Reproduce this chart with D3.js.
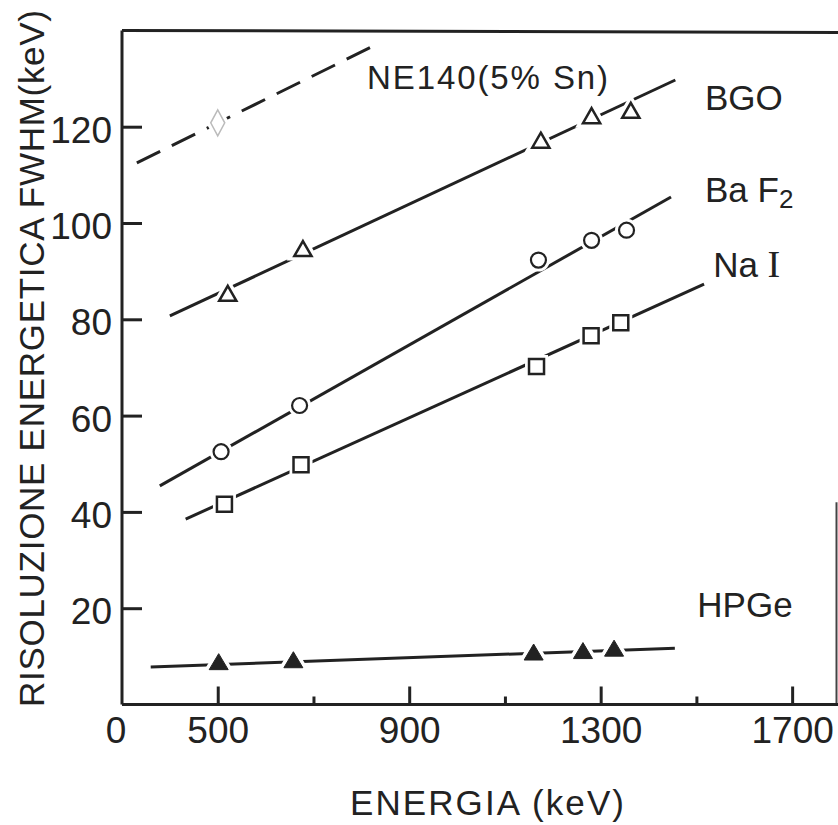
<!DOCTYPE html>
<html>
<head>
<meta charset="utf-8">
<script src="https://cdn.jsdelivr.net/npm/d3@7"></script>
<style>
  html, body { margin: 0; padding: 0; background: #fff; }
  svg { display: block; }
  text { font-family: "Liberation Sans", Arial, sans-serif; fill: #222; }
</style>
</head>
<body>
<div id="chart"></div>
<script>
// ---------- DATA ----------
const xMajorTicks = [500, 900, 1300, 1700];
const xMinorTicks = [700, 1100, 1500];
const yTicks = [20, 40, 60, 80, 100, 120];
const originLabel = "0";
const xTitle = "ENERGIA (keV)";
const yTitle = "RISOLUZIONE ENERGETICA FWHM(keV)";

// BGO (open triangles)
const bgoEnergy = [521, 678, 1175, 1281, 1363];
const bgoFwhm   = [85.4, 94.7, 117.2, 122.3, 123.4];
const bgoFit    = [[400, 80.7], [1456, 129.7]];
// BaF2 (open circles)
const baf2Energy = [507, 671, 1170, 1281, 1354];
const baf2Fwhm   = [52.5, 62.1, 92.3, 96.4, 98.5];
const baf2Fit    = [[379, 45.4], [1447, 105.4]];
// NaI (open squares)
const naiEnergy = [514, 674, 1166, 1280, 1342];
const naiFwhm   = [41.6, 49.8, 70.2, 76.6, 79.3];
const naiFit    = [[433, 38.5], [1516, 87.3]];
// HPGe (filled triangles)
const hpgeEnergy = [502, 658, 1160, 1263, 1328];
const hpgeFwhm   = [8.9, 9.3, 10.9, 11.2, 11.7];
const hpgeFit    = [[360, 7.8], [1455, 11.7]];
// NE140 (5% Sn) (grey diamond, dashed)
const ne140Energy = [500];
const ne140Fwhm   = [120.8];
const ne140Fit    = [[331, 112.5], [822, 136.6]];

// ---------- LAYOUT ----------
const W = 838, H = 825;
const ink = "#222";
const svg = d3.select("#chart").append("svg").attr("width", W).attr("height", H);

const x = d3.scaleLinear().domain([300, 1800]).range([122, 840]);
const y = d3.scaleLinear().domain([0, 140]).range([704.5, 30.4]);

const zip = (a, b) => a.map((v, i) => [v, b[i]]);
const line = d3.line().x(d => x(d[0])).y(d => y(d[1]));

// frame
const x0 = x(300), yB = y(0), yT = y(140);
svg.append("line").attr("x1", x0).attr("x2", W).attr("y1", yT).attr("y2", yT + 2)
  .attr("stroke", ink).attr("stroke-width", 3);
svg.append("line").attr("x1", W - 1.5).attr("x2", W - 1.5).attr("y1", y(42)).attr("y2", yB)
  .attr("stroke", "#444").attr("stroke-width", 2);

// x axis (ticks pointing inside)
const xAxisMajor = d3.axisBottom(x).tickValues(xMajorTicks).tickSizeInner(-18).tickSizeOuter(0).tickPadding(12)
  .tickFormat(d3.format("d"));
const gx = svg.append("g").attr("transform", `translate(0,${yB})`).call(xAxisMajor);
const xAxisMinor = d3.axisBottom(x).tickValues(xMinorTicks).tickSizeInner(-8).tickSizeOuter(0).tickFormat("");
const gx2 = svg.append("g").attr("transform", `translate(0,${yB})`).call(xAxisMinor);
[gx, gx2].forEach(g => {
  g.select(".domain").attr("stroke", ink).attr("stroke-width", 3);
  g.selectAll(".tick line").attr("stroke", ink).attr("stroke-width", 3);
});
gx.selectAll(".tick text").attr("font-size", 37).attr("fill", ink).attr("dy", "0.71em")
  .style("font-family", '"Liberation Sans", Arial, sans-serif');
gx.select(".domain").attr("d", `M${x0},0H${W}`);
gx2.select(".domain").remove();
svg.append("text").attr("x", x0 - 6).attr("y", yB + 38).attr("text-anchor", "middle")
  .attr("font-size", 37).text(originLabel);

// y axis (ticks pointing inside)
const yAxis = d3.axisLeft(y).tickValues(yTicks).tickSizeInner(-20).tickSizeOuter(0).tickPadding(10)
  .tickFormat(d3.format("d"));
const gy = svg.append("g").attr("transform", `translate(${x0},0)`).call(yAxis);
gy.select(".domain").attr("d", `M0,${yT}V${yB}`).attr("stroke", ink).attr("stroke-width", 3);
gy.selectAll(".tick line").attr("stroke", ink).attr("stroke-width", 3);
gy.selectAll(".tick text").attr("font-size", 37).attr("fill", ink).attr("dy", "0.42em")
  .style("font-family", '"Liberation Sans", Arial, sans-serif');

// axis titles
svg.append("text").attr("x", 350).attr("y", 815).attr("font-size", 35)
  .attr("textLength", 274).attr("lengthAdjust", "spacing").text(xTitle);
svg.append("text").attr("transform", "translate(44,707) rotate(-90)").attr("font-size", 35)
  .attr("textLength", 697).attr("lengthAdjust", "spacing").text(yTitle);

// ---------- SERIES ----------
const plot = svg.append("g");
function drawFit(fit, dashed) {
  plot.append("path").datum(fit).attr("d", line).attr("fill", "none")
    .attr("stroke", ink).attr("stroke-width", 3)
    .attr("stroke-dasharray", dashed ? "26,13" : null);
}
drawFit(ne140Fit, true);
drawFit(bgoFit, false);
drawFit(baf2Fit, false);
drawFit(naiFit, false);
drawFit(hpgeFit, false);

const triPath = "M0,-7.5L8.6,7.5L-8.6,7.5Z";
const triFillPath = "M0,-8L9.5,8L-9.5,8Z";
const sqPath = "M-7.5,-7.5H7.5V7.5H-7.5Z";
const diaPath = "M0,-13L7,0L0,13L-7,0Z";

function drawMarkers(E, R, shape, opts) {
  const g = plot.append("g");
  const pts = zip(E, R);
  const mk = sel => shape === "circle"
    ? sel.append("circle").attr("r", 7.5)
    : sel.append("path").attr("d", shape);
  pts.forEach(p => {
    const h = g.append("g").attr("transform", `translate(${x(p[0])},${y(p[1])})`);
    mk(h).attr("fill", "#fff").attr("stroke", "#fff").attr("stroke-width", opts.halo);
    mk(h).attr("fill", opts.fill).attr("stroke", opts.stroke).attr("stroke-width", opts.sw);
  });
}
drawMarkers(ne140Energy, ne140Fwhm, diaPath, {fill: "#fff", stroke: "#bbb", sw: 1.5, halo: 8});
drawMarkers(bgoEnergy, bgoFwhm, triPath, {fill: "#fff", stroke: ink, sw: 2.5, halo: 9});
drawMarkers(baf2Energy, baf2Fwhm, "circle", {fill: "#fff", stroke: ink, sw: 2.2, halo: 8});
drawMarkers(naiEnergy, naiFwhm, sqPath, {fill: "#fff", stroke: ink, sw: 2.5, halo: 8});
drawMarkers(hpgeEnergy, hpgeFwhm, triFillPath, {fill: ink, stroke: ink, sw: 1, halo: 8});

// ---------- SERIES LABELS ----------
const fs = 35;
svg.append("text").attr("x", x(812)).attr("y", y(127.9)).attr("font-size", 33)
  .attr("textLength", 241).attr("lengthAdjust", "spacing").text("NE140(5% Sn)");
svg.append("text").attr("x", x(1518)).attr("y", y(123.5)).attr("font-size", fs).text("BGO");
const baf = svg.append("text").attr("x", x(1518)).attr("y", y(104.4)).attr("font-size", fs);
baf.append("tspan").text("Ba F");
baf.append("tspan").attr("font-size", 26).attr("dy", 6).text("2");
const na = svg.append("text").attr("x", x(1535)).attr("y", y(88.8)).attr("font-size", fs);
na.append("tspan").text("Na ");
na.append("tspan").style("font-family", '"Liberation Serif", serif').attr("font-size", 38).text("I");
svg.append("text").attr("x", x(1502)).attr("y", y(18.2)).attr("font-size", fs).text("HPGe");
</script>
</body>
</html>
